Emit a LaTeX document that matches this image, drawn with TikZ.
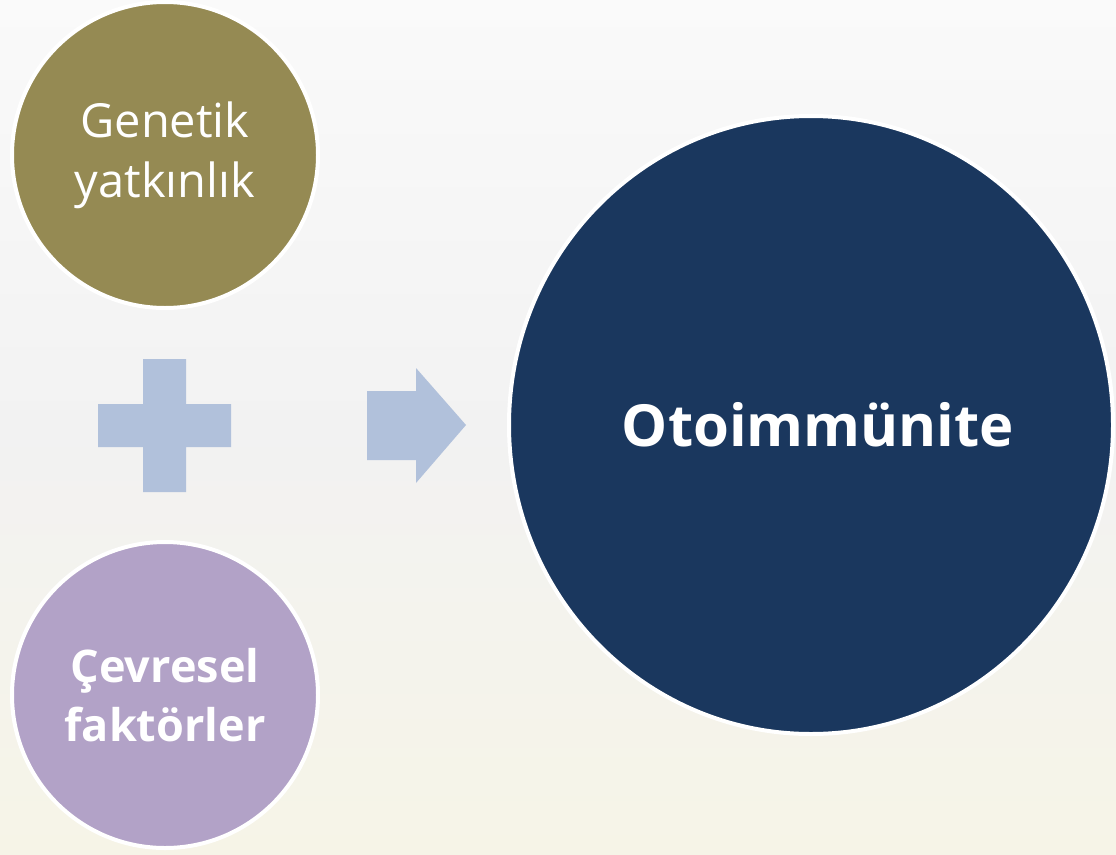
\documentclass[tikz,border=0pt]{standalone}
\usepackage{fontspec}
\setmainfont{Open Sans}
\definecolor{bgtop}{HTML}{FAFAFA}
\definecolor{bgmid}{HTML}{F2F2F2}
\definecolor{bgbot}{HTML}{F6F4E7}
\definecolor{olive}{HTML}{958A53}
\definecolor{lilac}{HTML}{B2A2C7}
\definecolor{navy}{HTML}{1A375E}
\definecolor{paleblue}{HTML}{B1C1DB}
\tikzset{
  x=1pt, y=-1pt,
  bubble/.style={draw=white, line width=4pt, text=white, align=center, inner sep=0pt},
  sign/.style={fill=paleblue, draw=none}
}
\begin{document}
\begin{tikzpicture}
\useasboundingbox (0,0) rectangle (1116,854);
\shade[top color=bgtop, bottom color=bgbot, middle color=bgmid] (0,0) rectangle (1116,854);
\node[bubble, circle, fill=olive, minimum size=306pt, font=\fontsize{47}{60}\selectfont] (gen) at (165,155) {Genetik\\yatkınlık};
\node[bubble, circle, fill=lilac, minimum size=306pt, font=\fontsize{45}{59}\selectfont\bfseries] (cev) at (165,695) {Çevresel\\faktörler};
\draw[navy, fill=navy, draw=white, line width=4pt] (811,425) ellipse [x radius=302, y radius=309];
\node[text=white, font=\fontsize{58}{68}\selectfont\bfseries] (oto) at (818,425) {Otoimmünite};
\path[sign] (98,404) -- (143,404) -- (143,359) -- (186,359) -- (186,404) -- (231,404) -- (231,447) -- (186,447) -- (186,492) -- (143,492) -- (143,447) -- (98,447) -- cycle;
\path[sign] (367,391) -- (416,391) -- (416,368) -- (466,425) -- (416,483) -- (416,460) -- (367,460) -- cycle;
\end{tikzpicture}
\end{document}
